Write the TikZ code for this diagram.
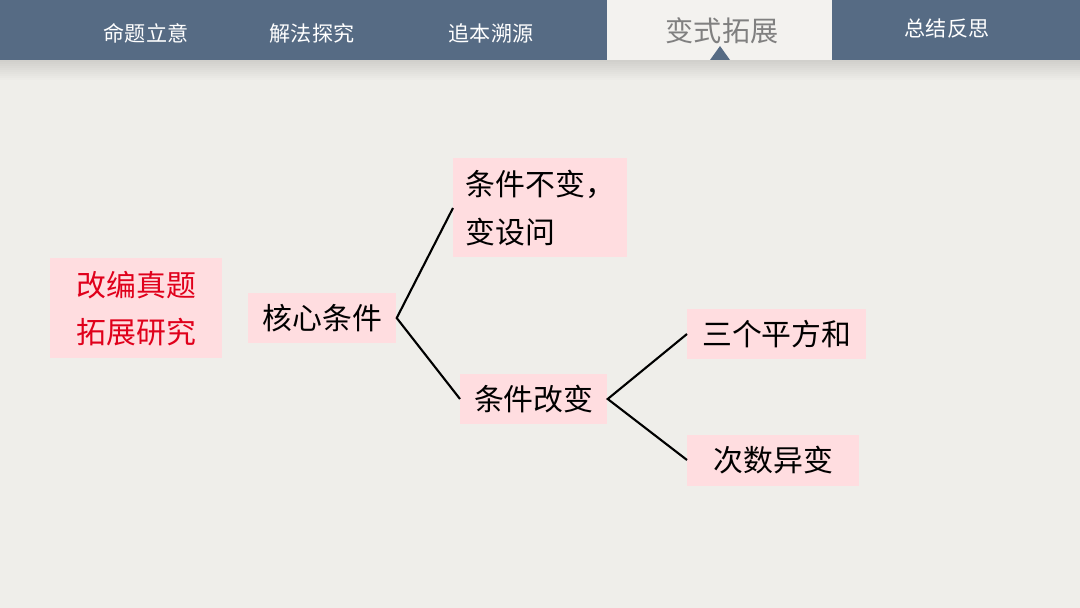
\documentclass[tikz,border=0pt]{standalone}
\usepackage{fontspec}
\setmainfont{Noto Sans CJK SC}
\usetikzlibrary{positioning}
\definecolor{barblue}{HTML}{566B84}
\definecolor{paper}{HTML}{EFEEEA}
\definecolor{tabpaper}{HTML}{F3F2EF}
\definecolor{pinkbox}{HTML}{FFDDE0}
\definecolor{redtext}{HTML}{E0001B}
\tikzset{
  tab/.style={text=white, font=\fontsize{12}{14}\selectfont},
  idea/.style={fill=pinkbox, align=left, anchor=north west, inner sep=0pt,
    font=\fontsize{17}{27}\selectfont},
  branch/.style={line width=1.2pt}
}
\begin{document}
\begin{tikzpicture}[x=0.02cm, y=-0.02cm]
    % Background and top bar
    \fill[paper] (0,0) rectangle (1080,608);
    \useasboundingbox (0,0) rectangle (1080,608);
    \foreach \i in {0,...,9}
        \fill[black, opacity=0.012] (0,60) rectangle (1080,62+2*\i);
    \fill[barblue] (0,0) rectangle (1080,60);
    \fill[tabpaper] (607,0) rectangle (832,60);
    \fill[barblue] (710,60) -- (720,46) -- (730,60) -- cycle;
    
    % Tab labels
    \node[tab] (t1) at (146,33) {命题立意};
    \node[tab] (t2) at (312,33) {解法探究};
    \node[tab] (t3) at (491,33) {追本溯源};
    \node[text=gray, font=\fontsize{16}{18}\selectfont] (t4) at (722,31) {变式拓展};
    \node[tab] (t5) at (947,29) {总结反思};
    
    % Mind map boxes
    \node[idea, minimum width=172*0.02cm, minimum height=100*0.02cm, text=redtext,
          inner xsep=10pt] (root) at (50,258) {改编真题\\拓展研究};
    \node[idea, minimum width=148*0.02cm, minimum height=50*0.02cm, inner xsep=7pt,
          anchor=west] (core) at (248,318) {核心条件};
    \node[idea, minimum width=160*0.02cm, minimum height=99*0.02cm, inner xsep=7pt,
          anchor=west] (same) at (453,208) {条件不变，\\变设问};
    \node[idea, minimum width=147*0.02cm, minimum height=50*0.02cm, inner xsep=7pt,
          anchor=west] (change) at (460,399) {条件改变};
    \node[idea, minimum width=179*0.02cm, minimum height=50*0.02cm, inner xsep=7pt,
          anchor=west] (square) at (687,334) {三个平方和};
    \node[idea, minimum width=172*0.02cm, minimum height=51*0.02cm, inner xsep=7pt,
          anchor=west] (power) at (687,460) {次数异变};
    
    % Branches
    \draw[branch] (same.west) -- (core.east) -- (change.west);
    \draw[branch] (square.west) -- (change.east) -- (power.west);
\end{tikzpicture}
\end{document}
